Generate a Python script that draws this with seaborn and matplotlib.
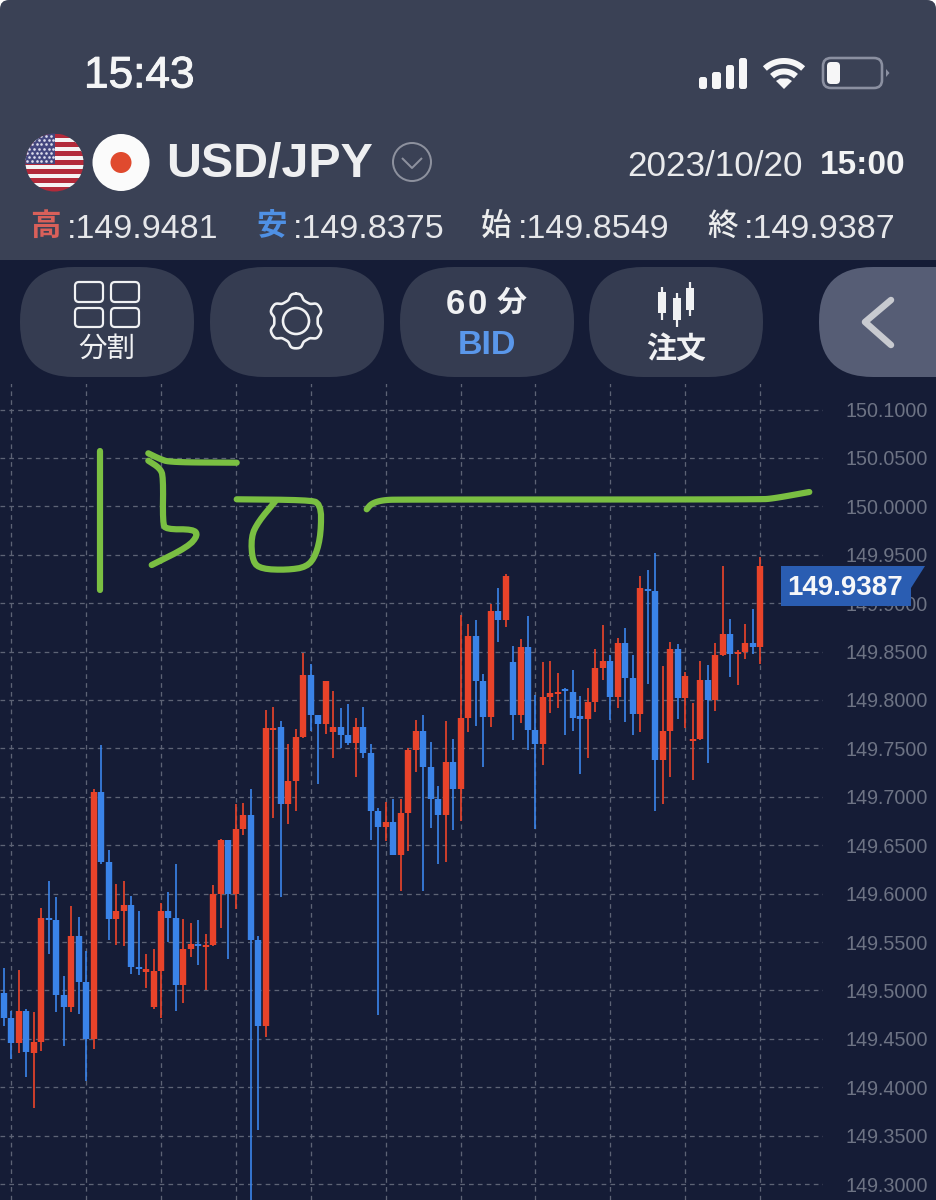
import numpy as np
import pandas as pd
import matplotlib
matplotlib.use("Agg")
import matplotlib.pyplot as plt
import matplotlib.patheffects as pe
import seaborn as sns
from matplotlib.patches import FancyBboxPatch, Circle, Polygon, Rectangle

# Hourly USD/JPY bid candles, oldest first
highs = [149.523, 149.479, 149.521, 149.481, 149.478, 149.585, 149.613, 149.596, 149.515, 149.587,
         149.576, 149.541, 149.708, 149.754, 149.645, 149.610, 149.613, 149.598, 149.582, 149.538,
         149.543, 149.590, 149.602, 149.631, 149.574, 149.570, 149.573, 149.558, 149.609, 149.656,
         149.655, 149.693, 149.694, 149.708, 149.556, 149.790, 149.793, 149.778, 149.755, 149.770,
         149.849, 149.837, 149.785, 149.820, 149.809, 149.792, 149.796, 149.781, 149.793, 149.755,
         149.688, 149.695, 149.698, 149.698, 149.750, 149.779, 149.784, 149.757, 149.711, 149.778,
         149.760, 149.888, 149.879, 149.883, 149.827, 149.899, 149.916, 149.930, 149.856, 149.863,
         149.887, 149.805, 149.839, 149.840, 149.828, 149.812, 149.831, 149.804, 149.812, 149.853,
         149.877, 149.846, 149.864, 149.874, 149.847, 149.928, 149.934, 149.952, 149.835, 149.860,
         149.858, 149.829, 149.797, 149.840, 149.836, 149.859, 149.938, 149.884, 149.852, 149.878,
         149.894, 149.9481]
lows = [149.463, 149.429, 149.435, 149.411, 149.378, 149.437, 149.538, 149.478, 149.443, 149.478,
        149.476, 149.406, 149.439, 149.631, 149.552, 149.547, 149.546, 149.517, 149.516, 149.502,
        149.481, 149.471, 149.550, 149.479, 149.487, 149.535, 149.526, 149.500, 149.546, 149.564,
        149.532, 149.584, 149.661, 149.250, 149.356, 149.452, 149.678, 149.597, 149.672, 149.685,
        149.761, 149.768, 149.713, 149.765, 149.740, 149.750, 149.753, 149.720, 149.740, 149.655,
        149.475, 149.654, 149.640, 149.603, 149.644, 149.726, 149.603, 149.668, 149.631, 149.633,
        149.666, 149.675, 149.767, 149.773, 149.731, 149.772, 149.860, 149.875, 149.759, 149.776,
        149.748, 149.667, 149.733, 149.787, 149.792, 149.764, 149.768, 149.724, 149.740, 149.788,
        149.821, 149.779, 149.792, 149.777, 149.764, 149.767, 149.817, 149.685, 149.693, 149.720,
        149.780, 149.771, 149.717, 149.759, 149.735, 149.789, 149.845, 149.824, 149.815, 149.842,
        149.848, 149.8375]
opens = [149.497, 149.472, 149.446, 149.479, 149.435, 149.447, 149.575, 149.573, 149.495, 149.483,
         149.556, 149.509, 149.450, 149.705, 149.633, 149.574, 149.582, 149.588, 149.524, 149.519,
         149.483, 149.520, 149.582, 149.575, 149.506, 149.543, 149.548, 149.545, 149.547, 149.600,
         149.655, 149.600, 149.667, 149.681, 149.552, 149.463, 149.769, 149.772, 149.693, 149.716,
         149.762, 149.826, 149.784, 149.775, 149.767, 149.772, 149.764, 149.756, 149.772, 149.745,
         149.685, 149.669, 149.674, 149.640, 149.683, 149.748, 149.768, 149.731, 149.698, 149.681,
         149.736, 149.708, 149.781, 149.866, 149.820, 149.782, 149.892, 149.883, 149.839, 149.785,
         149.855, 149.769, 149.755, 149.803, 149.806, 149.811, 149.808, 149.783, 149.780, 149.798,
         149.833, 149.840, 149.803, 149.859, 149.823, 149.786, 149.915, 149.913, 149.738, 149.768,
         149.853, 149.802, 149.758, 149.760, 149.821, 149.800, 149.846, 149.868, 149.848, 149.850,
         149.859, 149.8549]
closes = [149.472, 149.446, 149.479, 149.436, 149.447, 149.575, 149.573, 149.495, 149.483, 149.556,
          149.509, 149.450, 149.705, 149.633, 149.574, 149.582, 149.588, 149.524, 149.522, 149.522,
          149.520, 149.582, 149.575, 149.506, 149.543, 149.548, 149.546, 149.547, 149.600, 149.655,
          149.600, 149.667, 149.681, 149.552, 149.463, 149.771, 149.771, 149.693, 149.716, 149.762,
          149.826, 149.784, 149.775, 149.820, 149.772, 149.764, 149.756, 149.772, 149.745, 149.685,
          149.669, 149.674, 149.640, 149.683, 149.748, 149.768, 149.731, 149.698, 149.681, 149.736,
          149.708, 149.781, 149.866, 149.820, 149.782, 149.892, 149.883, 149.928, 149.785, 149.855,
          149.769, 149.755, 149.803, 149.807, 149.808, 149.809, 149.781, 149.780, 149.798, 149.833,
          149.840, 149.803, 149.859, 149.823, 149.786, 149.916, 149.913, 149.738, 149.768, 149.853,
          149.802, 149.825, 149.760, 149.821, 149.800, 149.846, 149.868, 149.848, 149.850, 149.859,
          149.855, 149.9387]

price_levels = [150.10, 150.05, 150.00, 149.95, 149.90, 149.85, 149.80, 149.75, 149.70, 149.65,
                149.60, 149.55, 149.50, 149.45, 149.40, 149.35, 149.30]
session_marks = [1, 11, 21, 31, 41, 51, 61, 71, 81, 91, 101]

pair_name = "USD/JPY"
bar_date = "2023/10/20"
bar_time = "15:00"
clock = "15:43"
ohlc_captions = ["高", "安", "始", "終"]
ohlc_values = ["149.9481", "149.8375", "149.8549", "149.9387"]

BG = "#151c36"
HEADER = "#3a4155"
PILL = "#353c51"
RED = "#e8432a"
BLUE = "#3a83e8"
GREEN = "#7abf42"
GRID = "#5d6375"
AXIS_TEXT = "#6d7384"

sns.set_theme(style="dark", rc={"axes.facecolor": BG, "figure.facecolor": BG})
plt.rcParams["font.family"] = ["Liberation Sans", "Noto Sans CJK JP", "DejaVu Sans"]

PX = 0.72  # points per pixel at 100 dpi
W, H = 936, 1200
fig = plt.figure(figsize=(W / 100, H / 100), dpi=100)
fig.patch.set_facecolor(BG)

# Candlestick panel
ax = fig.add_axes([0, 0, 823 / W, 823 / H])
ax.set_facecolor(BG)
candles = pd.DataFrame({"high": highs, "low": lows, "open": opens, "close": closes})
candles["slot"] = np.arange(len(candles))
candles["side"] = np.where(candles["close"] >= candles["open"], "up", "down")
palette = {"up": RED, "down": BLUE}

wicks = candles.melt(id_vars=["slot", "side"], value_vars=["high", "low"], value_name="price")
bodies = candles.melt(id_vars=["slot", "side"], value_vars=["open", "close"], value_name="price")
sns.lineplot(data=wicks, x="slot", y="price", units="slot", hue="side", palette=palette,
             estimator=None, sort=False, legend=False, linewidth=1.7 * PX,
             solid_capstyle="butt", ax=ax, zorder=3)
sns.lineplot(data=bodies, x="slot", y="price", units="slot", hue="side", palette=palette,
             estimator=None, sort=False, legend=False, linewidth=6.4 * PX,
             solid_capstyle="butt", ax=ax, zorder=4)

ax.set_xlim((0 - 3.7) / 7.49, (823 - 3.7) / 7.49)
ax.set_ylim(149.75 + (748.4 - 1200) / 968, 149.75 + (748.4 - 377) / 968)
ax.set_xlabel("")
ax.set_ylabel("")
ax.set_xticks(session_marks)
ax.set_xticklabels([])
ax.set_yticks(price_levels)
ax.set_yticklabels([f"{v:.4f}" for v in price_levels])
ax.yaxis.tick_right()
ax.tick_params(axis="both", length=0)
ax.tick_params(axis="y", pad=22.5 * PX, labelsize=14.2, labelcolor=AXIS_TEXT)
ax.grid(True, color=GRID, linewidth=1.3 * PX, linestyle=(0, (3.6, 3.2)), zorder=1)
ax.set_axisbelow(True)
for spine in ax.spines.values():
    spine.set_visible(False)

# Overlay in pixel coordinates for the app chrome
ui = fig.add_axes([0, 0, 1, 1], facecolor="none")
ui.set_xlim(0, W)
ui.set_ylim(H, 0)
ui.axis("off")


def write(x, y, s, size, color="#f0f1f3", ha="left", weight="normal", family=None, z=10, thicken=0):
    label = ui.text(x, y, s, fontsize=size, color=color, ha=ha, va="center", fontweight=weight,
                    family=family or ["Liberation Sans", "Noto Sans CJK JP"], zorder=z)
    if thicken:
        label.set_path_effects([pe.withStroke(linewidth=thicken, foreground=color)])


def pill(x0, y0, x1, y1, radius, color, z=2, **kw):
    ui.add_patch(FancyBboxPatch((x0 + radius, y0 + radius), x1 - x0 - 2 * radius, y1 - y0 - 2 * radius,
                                boxstyle=f"round,pad={radius},rounding_size={radius}",
                                facecolor=color, edgecolor="none", zorder=z, **kw))


def stroke(points, color=GREEN, lw=6.2, z=6, cap="round"):
    xs, ys = zip(*points)
    ui.plot(xs, ys, color=color, lw=lw * PX, solid_capstyle=cap, solid_joinstyle="round", zorder=z)


def rounded(points, passes=3):
    # Corner cutting, so a few pen positions read as one fluid stroke
    pts = np.asarray(points, dtype=float)
    for _ in range(passes):
        head, tail = pts[:-1], pts[1:]
        cut = np.empty((2 * len(head), 2))
        cut[0::2] = 0.75 * head + 0.25 * tail
        cut[1::2] = 0.25 * head + 0.75 * tail
        pts = np.vstack([pts[:1], cut, pts[-1:]])
    return pts


# Header band with the screen's rounded corners
ui.add_patch(Rectangle((0, 0), W, 12, facecolor="white", edgecolor="none", zorder=0.5))
pill(0, 0, W, 40, 9, HEADER, z=1)
ui.add_patch(Rectangle((0, 20), W, 240, facecolor=HEADER, edgecolor="none", zorder=1))
ui.add_patch(Rectangle((0, 377), W, 7, facecolor=BG, edgecolor="none", zorder=0.8))

# Status bar
write(84, 76, clock, 31.8, color="#f4f5f6", thicken=0.7)
for x0, x1, top in [(699, 707, 77), (712, 721, 72), (726, 734, 65), (739, 747, 58)]:
    pill(x0, top, x1, 89, 2.5, "#f6f6f7", z=3)
wifi_x, wifi_y = 784, 89
for radius, span in [(28, 43), (17.5, 43)]:
    t = np.radians(np.linspace(90 - span, 90 + span, 30))
    stroke(list(zip(wifi_x + radius * np.cos(t), wifi_y - radius * np.sin(t))), color="#f6f6f7", lw=6, z=3, cap="butt")
ui.add_patch(Polygon([(wifi_x, wifi_y), (wifi_x - 8, wifi_y - 8), (wifi_x - 4, wifi_y - 10.5),
                      (wifi_x + 4, wifi_y - 10.5), (wifi_x + 8, wifi_y - 8)],
                     facecolor="#f6f6f7", edgecolor="none", zorder=3))
ui.add_patch(FancyBboxPatch((828, 63), 49, 20, boxstyle="round,pad=5,rounding_size=8", facecolor="none",
                            edgecolor="#8b90a1", linewidth=2.6 * PX, zorder=3))
pill(827, 62, 840, 84, 4, "#f6f6f7", z=4)
ui.add_patch(Polygon([(886, 69), (889.5, 73), (886, 77)], facecolor="#8b90a1", edgecolor="none", zorder=3))

# Currency flags
us_disc = Circle((54.5, 162.5), 29, transform=ui.transData)
stripe_h = 58 / 13
for k in range(13):
    stripe = Rectangle((25, 133.5 + k * stripe_h), 60, stripe_h + 0.2, edgecolor="none",
                       facecolor="#b22a3a" if k % 2 == 0 else "#f5f3f3", zorder=3)
    ui.add_patch(stripe)
    stripe.set_clip_path(us_disc)
canton = Rectangle((25, 133), 30, 31, facecolor="#44477f", edgecolor="none", zorder=4)
ui.add_patch(canton)
canton.set_clip_path(us_disc)
star_x, star_y = [], []
for row, yy in enumerate(np.arange(136, 163, 4.2)):
    for xx in np.arange(27 + 2.4 * (row % 2), 55, 4.8):
        star_x.append(xx)
        star_y.append(yy)
stars = ui.scatter(star_x, star_y, s=3.6, color="#dcdcec", linewidths=0, zorder=5)
stars.set_clip_path(us_disc)
ui.add_patch(Circle((121, 162.5), 28.5, facecolor="#fbfbfb", edgecolor="none", zorder=3))
ui.add_patch(Circle((121, 162.5), 10.5, facecolor="#e04a2e", edgecolor="none", zorder=4))

write(166, 165, pair_name, 34.8, weight="bold", color="#eeeff1")
ui.add_patch(Circle((412, 162), 19, facecolor="none", edgecolor="#8d919e", linewidth=2 * PX, zorder=3))
stroke([(402, 158), (412, 168), (422, 158)], color="#8d919e", lw=2, z=3, cap="butt")
write(627, 166, bar_date, 25.2, color="#e9eaec")
write(906, 166, bar_time, 24, ha="right", weight="bold", color="#f2f3f4")

# Open, high, low and close readout
caption_x = [30, 256, 481, 707]
caption_colors = ["#d9605a", "#4f90e4", "#eceded", "#eceded"]
for x, caption, value, tint in zip(caption_x, ohlc_captions, ohlc_values, caption_colors):
    write(x, 226, caption, 22, color=tint, family=["Noto Sans CJK JP"],
          weight="medium" if tint == "#eceded" else "bold")
    write(x + 37, 229, ":" + value, 24.5, color="#e6e7ea")

# Toolbar buttons
for x0, x1 in [(20, 194), (210, 384), (400, 574), (589, 763)]:
    pill(x0, 267, x1, 377, 54, PILL)
pill(819, 267, 990, 377, 54, "#565d75")
stroke([(891, 300), (865, 322), (891, 345)], color="#c8cad0", lw=6.5)

for x0, x1, y0, y1 in [(75, 103, 282, 302), (111, 139, 282, 302), (75, 103, 308, 327), (111, 139, 308, 327)]:
    ui.add_patch(FancyBboxPatch((x0 + 4, y0 + 4), x1 - x0 - 8, y1 - y0 - 8, boxstyle="round,pad=4,rounding_size=4",
                                facecolor="none", edgecolor="#f0f1f3", linewidth=2.2 * PX, zorder=3))
write(107, 349, "分割", 20.5, ha="center", family=["Noto Sans CJK JP"])

angle = np.linspace(0, 2 * np.pi, 360)
gear_r = 24.5 + 3 * np.tanh(1.8 * np.cos(6 * angle))
stroke(list(zip(296 + gear_r * np.sin(angle), 321 - gear_r * np.cos(angle))), color="#f0f1f3", lw=2.6, z=3)
ui.add_patch(Circle((296, 321), 13, facecolor="none", edgecolor="#f0f1f3", linewidth=2.6 * PX, zorder=3))

write(446, 304, "6", 25, weight="bold", color="#f0f1f3")
write(468, 304, "0", 25, weight="bold", color="#f0f1f3")
write(512, 303, "分", 21.6, ha="center", weight="bold", family=["Noto Sans CJK JP"])
write(487, 345, "BID", 24.5, ha="center", weight="bold", color="#5a97ea")

for cx, wick_top, wick_low, body_top, body_low in [(662, 287, 320, 292, 313), (677, 293, 327, 298, 320), (690, 282, 316, 288, 310)]:
    stroke([(cx, wick_top), (cx, wick_low)], color="#f0f1f3", lw=2.2, z=3, cap="butt")
    stroke([(cx, body_top), (cx, body_low)], color="#f0f1f3", lw=8, z=3, cap="butt")
write(676, 349, "注文", 21.6, ha="center", weight="bold", family=["Noto Sans CJK JP"])

# Handwritten target scribble
stroke([(99.7, 451), (99.7, 590)])
stroke(rounded([(148.3, 453.3), (160, 459), (170, 462.3), (236.7, 462.7)]))
stroke(rounded([(148.3, 460.7), (160, 468.3), (163.3, 476.7), (162.7, 523.3), (166, 529.3), (193.3, 529.3),
                (198, 535), (188.3, 546.7), (151.7, 565)], passes=2))
stroke(rounded([(236.7, 499.3), (306.7, 500), (321, 503), (321, 533.3), (316, 555), (307, 567), (286.7, 570),
                (261.7, 569), (252.5, 562), (251, 536.7), (258.3, 521.7), (275, 501.7)], passes=2))
stroke(rounded([(366.7, 509.3), (371.7, 503.3), (383.3, 500), (400, 499.5), (760, 499.5), (773.3, 498.5), (809.3, 492)]))

# Last price flag
ui.add_patch(Polygon([(781, 566), (925, 566), (911, 588), (911, 606), (781, 606)],
                     facecolor="#2a5db2", edgecolor="none", zorder=8))
write(787, 588, f"{closes[-1]:.4f}", 20, weight="bold", color="#f6f7f9", z=9)

fig.savefig("out.png", dpi=100, facecolor=fig.get_facecolor())
